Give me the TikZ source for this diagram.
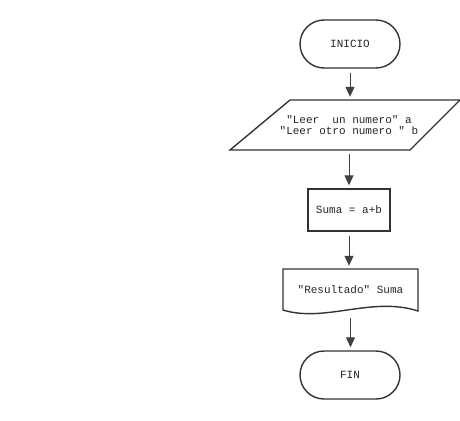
\documentclass[tikz,border=0pt]{standalone}
\usepackage{fontspec}
\setmonofont{Liberation Mono}
\usetikzlibrary{arrows.meta}
\begin{document}
\begin{tikzpicture}[x=1pt,y=-1pt,
  shapeline/.style={draw=black!80, line width=1.4pt},
  txt/.style={font=\ttfamily\fontsize{11}{11.5}\selectfont, text=black!85, inner sep=0pt, align=center},
  term/.style={shapeline, txt, rounded corners=24pt, minimum width=100pt, minimum height=48pt},
  proc/.style={shapeline, txt, minimum width=82pt, minimum height=42pt},
  conn/.style={draw=black!75, line width=1pt, -{Triangle[width=9pt,length=10pt]}, shorten <=4pt, shorten >=3pt}]
\useasboundingbox (0,0) rectangle (460,420);
% start
\node[term] (inicio) at (350,44) {INICIO};
% input parallelogram
\node[txt, minimum width=170pt, minimum height=50pt] (leer) at (349,125) {"Leer\ \ un numero" a\\"Leer otro numero " b};
\draw[shapeline] (290,100) -- (460,100) -- (410,150) -- (230,150) -- cycle;
% process
\node[proc] (suma) at (349,210) {Suma = a+b};
% document
\node[txt, minimum width=135pt, minimum height=41pt] (res) at (350.5,289.5) {"Resultado" Suma};
\draw[shapeline] (283,310) -- (283,269) -- (418,269) -- (418,311)
  .. controls (372,296) and (325,323) .. cycle;
% end
\node[term] (fin) at (350,375) {FIN};
% connectors
\draw[conn] (inicio.south) -- (inicio.south |- leer.north);
\draw[conn] (leer.south) -- (suma.north);
\draw[conn] (suma.south) -- (suma.south |- res.north);
\draw[conn] ([yshift=-4pt]res.south) -- (res.south |- fin.north);
\end{tikzpicture}
\end{document}
